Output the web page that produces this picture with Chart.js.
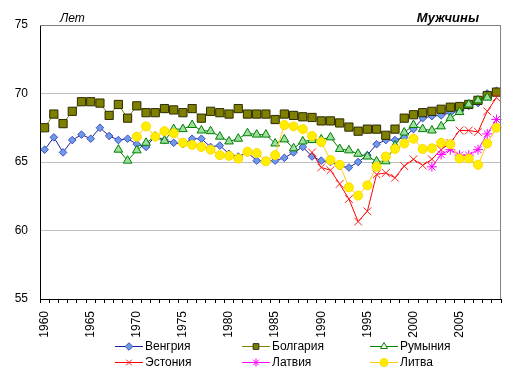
<!DOCTYPE html>
<html>
<head>
<meta charset="utf-8">
<script src="https://cdn.jsdelivr.net/npm/chart.js@4/dist/chart.umd.min.js"></script>
<style>
    body { margin: 0; background: #fff; font-family: "Liberation Sans", Arial, sans-serif; }
    #wrap { position: relative; width: 519px; height: 377px; }
    #legend { position: absolute; left: 0; top: 0; width: 519px; height: 377px; pointer-events: none; }
    .item { position: absolute; font-size: 12px; color: #000; display: flex; align-items: center; height: 14px; }
    .item canvas { margin-right: 2px; }
</style>
</head>
<body>
<div id="wrap">
    <canvas id="chart" width="519" height="377"></canvas>
    <div id="legend"></div>
</div>
<script>
// Categories
const years = [1960, 1961, 1962, 1963, 1964, 1965, 1966, 1967, 1968, 1969,
               1970, 1971, 1972, 1973, 1974, 1975, 1976, 1977, 1978, 1979,
               1980, 1981, 1982, 1983, 1984, 1985, 1986, 1987, 1988, 1989,
               1990, 1991, 1992, 1993, 1994, 1995, 1996, 1997, 1998, 1999,
               2000, 2001, 2002, 2003, 2004, 2005, 2006, 2007, 2008, 2009];

// Series (male life expectancy, years)
const hungary = [65.9, 66.8, 65.7, 66.6, 67.0, 66.7, 67.5, 66.9, 66.6, 66.7,
                 66.3, 66.1, 66.9, 66.6, 66.4, 66.3, 66.7, 66.7, 66.1, 66.2,
                 65.6, 65.4, 65.7, 65.1, 65.1, 65.1, 65.3, 65.7, 66.1, 65.4,
                 65.1, 65.0, 64.7, 64.6, 65.0, 65.5, 66.3, 66.6, 66.6, 66.8,
                 67.4, 68.2, 68.35, 68.4, 68.6, 68.7, 69.1, 69.3, 70.0, 70.2];

const bulgaria = [67.5, 68.5, 67.8, 68.7, 69.4, 69.4, 69.3, 68.4, 69.2, 68.2,
                  69.1, 68.6, 68.6, 68.9, 68.8, 68.6, 68.9, 68.2, 68.7, 68.6,
                  68.5, 68.9, 68.5, 68.5, 68.5, 68.1, 68.5, 68.4, 68.3, 68.25,
                  68.0, 68.0, 67.85, 67.55, 67.25, 67.4, 67.4, 66.95, 67.4, 68.2,
                  68.45, 68.6, 68.7, 68.85, 69.0, 69.05, 69.2, 69.5, 69.85, 70.1];

const romania = [null, null, null, null, null, null, null, null, 65.9, 65.1,
                 65.85, 66.4, 66.85, 66.55, 67.4, 67.4, 67.7, 67.3, 67.25, 66.85,
                 66.5, 66.7, 67.1, 67.0, 67.0, 66.35, 66.65, 66.0, 66.5, 66.6,
                 66.65, 66.8, 65.95, 65.85, 65.6, 65.4, 65.05, 65.05, 66.2, 67.15,
                 67.7, 67.4, 67.3, 67.6, 68.2, 68.65, 69.2, 69.5, 69.7, null];

const estonia = [null, null, null, null, null, null, null, null, null, null,
                 null, null, null, null, null, null, null, null, null, null,
                 null, null, null, null, null, null, null, null, null, 65.7,
                 64.6, 64.4, 63.4, 62.3, 60.65, 61.4, 64.1, 64.2, 63.85, 64.7,
                 65.2, 64.75, 65.2, 65.9, 66.4, 67.3, 67.3, 67.2, 68.7, 69.7];

const latvia = [null, null, null, null, null, null, null, null, null, null,
                null, null, null, null, null, null, null, null, null, null,
                null, null, null, null, null, null, null, null, null, null,
                null, null, null, null, null, null, null, null, null, null,
                null, null, 64.65, 65.55, 65.9, 65.5, 65.5, 65.9, 67.05, 68.1];

const lithuania = [null, null, null, null, null, null, null, null, null, null,
                   66.85, 67.6, 66.85, 67.25, 67.1, 66.4, 66.25, 66.1, 65.9, 65.5,
                   65.45, 65.25, 65.75, 65.65, 65.05, 65.5, 67.7, 67.6, 67.4, 66.9,
                   66.45, 65.15, 64.8, 63.15, 62.55, 63.3, 64.65, 65.4, 65.95, 66.35,
                   66.7, 65.95, 66.0, 66.4, 66.3, 65.25, 65.25, 64.8, 66.35, 67.5];

// Axis ticks
const yTicks = [55, 60, 65, 70, 75];

const seriesList = [
    { label: 'Венгрия',  data: hungary,   line: '#1f1f99', fill: '#6f9be6', stroke: '#3d4fc4', style: 'rectRot',  r: 3.8, legendFill: '#6f9be6' },
    { label: 'Болгария', data: bulgaria,  line: '#808000', fill: '#808000', stroke: '#2b2b00', style: 'rect',     r: 5.8, legendFill: '#808000' },
    { label: 'Румыния',  data: romania,   line: '#008000', fill: '#9ede9e', stroke: '#008000', style: 'triangle', r: 5,   legendFill: '#ffffff' },
    { label: 'Эстония',  data: estonia,   line: '#ff0000', fill: '#ff0000', stroke: '#ff2020', style: 'crossRot', r: 5.5, legendFill: '#ff0000' },
    { label: 'Латвия',   data: latvia,    line: '#ff00ff', fill: '#ff00ff', stroke: '#ff00ff', style: 'star',     r: 5,   legendFill: '#ff00ff' },
    { label: 'Литва',    data: lithuania, line: '#ffcc00', fill: '#ffee00', stroke: '#ffd700', style: 'circle',   r: 4.5, legendFill: '#ffee00' }
];

const datasets = seriesList.map((s, i) => ({
    label: s.label,
    data: s.data,
    borderColor: s.line,
    borderWidth: 1,
    backgroundColor: s.fill,
    pointStyle: s.style,
    pointRadius: s.r,
    pointHoverRadius: s.r,
    pointBackgroundColor: s.fill,
    pointBorderColor: s.stroke,
    pointBorderWidth: 1,
    tension: 0,
    spanGaps: false,
    order: seriesList.length - 1 - i
}));

// Extra texts and the plot frame
const framePlugin = {
    id: 'frame',
    afterDraw(chart) {
        const ctx = chart.ctx;
        const a = chart.chartArea;
        ctx.save();
        ctx.strokeStyle = '#808080';
        ctx.lineWidth = 1;
        ctx.beginPath();
        ctx.moveTo(a.left, a.top + 0.5);
        ctx.lineTo(a.right - 0.5, a.top + 0.5);
        ctx.lineTo(a.right - 0.5, a.bottom);
        ctx.stroke();

        ctx.fillStyle = '#000';
        ctx.textBaseline = 'alphabetic';
        ctx.font = 'italic 12px "Liberation Sans", Arial, sans-serif';
        ctx.textAlign = 'left';
        ctx.fillText('Лет', 60, 22);
        ctx.font = 'bold italic 13px "Liberation Sans", Arial, sans-serif';
        ctx.textAlign = 'right';
        ctx.fillText('Мужчины', 479, 22);
        ctx.restore();
    }
};

const chart = new Chart(document.getElementById('chart'), {
    type: 'line',
    data: { labels: years.map(String), datasets: datasets },
    options: {
        responsive: false,
        animation: false,
        layout: { padding: { top: 25, right: 16, bottom: 38, left: 0 } },
        plugins: {
            legend: { display: false },
            tooltip: { enabled: false }
        },
        scales: {
            x: {
                offset: true,
                grid: { display: true, drawOnChartArea: false, offset: true, tickLength: 4, color: '#000' },
                border: { color: '#000', width: 1 },
                ticks: {
                    autoSkip: false,
                    maxRotation: 90,
                    minRotation: 90,
                    padding: 8,
                    color: '#000',
                    font: { family: '"Liberation Sans", Arial, sans-serif', size: 12 },
                    callback: (v, i) => (years[i] % 5 === 0 ? String(years[i]) : '')
                },
                afterFit: s => { s.height = 40; }
            },
            y: {
                min: yTicks[0],
                max: yTicks[yTicks.length - 1],
                afterBuildTicks: s => { s.ticks = yTicks.map(v => ({ value: v })); },
                grid: { color: '#c0c0c0', drawTicks: false },
                border: { color: '#000', width: 1 },
                ticks: {
                    color: '#000',
                    padding: 12,
                    font: { family: '"Liberation Sans", Arial, sans-serif', size: 12 }
                },
                afterFit: s => { s.width = 40; }
            }
        }
    },
    plugins: [framePlugin]
});

// Legend: two rows of three, line with marker
const legend = document.getElementById('legend');
const colX = [115, 242, 370];
const rowY = [339, 355];
seriesList.forEach((s, i) => {
    const item = document.createElement('div');
    item.className = 'item';
    item.style.left = colX[i % 3] + 'px';
    item.style.top = rowY[Math.floor(i / 3)] + 'px';

    const c = document.createElement('canvas');
    c.width = 28;
    c.height = 14;
    const ctx = c.getContext('2d');
    ctx.strokeStyle = s.line;
    ctx.lineWidth = 1;
    ctx.beginPath();
    ctx.moveTo(0, 7.5);
    ctx.lineTo(28, 7.5);
    ctx.stroke();
    ctx.fillStyle = s.legendFill;
    ctx.strokeStyle = s.stroke;
    Chart.helpers.drawPoint(ctx, { pointStyle: s.style, radius: Math.min(s.r, 4), rotation: 0, borderWidth: 1 }, 14, 7.5);

    const t = document.createElement('span');
    t.textContent = s.label;
    item.appendChild(c);
    item.appendChild(t);
    legend.appendChild(item);
});
</script>
</body>
</html>
